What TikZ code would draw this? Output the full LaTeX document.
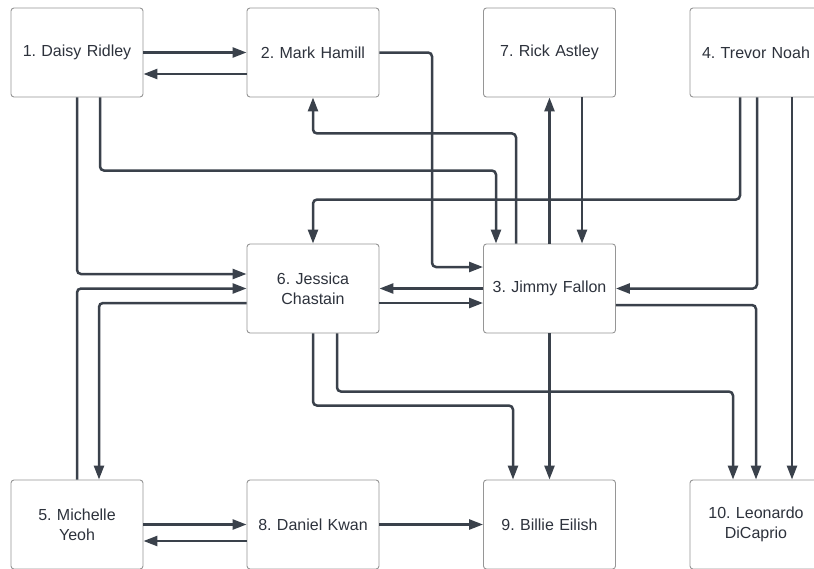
\documentclass[tikz,border=0pt]{standalone}
\usepackage{fontspec}
\setmainfont{Liberation Sans}
\usetikzlibrary{arrows.meta}
\definecolor{edgec}{RGB}{58,65,75}
\definecolor{boxc}{RGB}{150,150,150}
\definecolor{txtc}{RGB}{45,50,60}
\tikzset{
  box/.style={draw=boxc, line width=0.9pt, rounded corners=3pt, minimum width=132pt, minimum height=89pt, inner sep=2pt, text width=124pt, align=center, font=\fontsize{16}{20}\selectfont\frenchspacing, text=txtc},
  arr/.style={draw=edgec, line width=2.5pt, rounded corners=4pt, -{Triangle[length=14pt,width=10pt]}}
}
\begin{document}
\begin{tikzpicture}[x=1pt,y=-1pt]
\useasboundingbox (0,0) rectangle (814,568);
\clip (0,0) rectangle (814,568);
\fill[white] (0,0) rectangle (814,568);
\node[box] (n1) at (77,52.5) {1. Daisy Ridley};
\node[box] (n2) at (313,52.5) {2. Mark Hamill};
\node[box] (n7) at (549.5,52.5) {7. Rick Astley};
\node[box] (n4) at (756,52.5) {4. Trevor Noah};
\node[box] (n6) at (313,288.5) {6. Jessica\\Chastain};
\node[box] (n3) at (549.5,288.5) {3. Jimmy Fallon};
\node[box] (n5) at (77,524.5) {5. Michelle\\Yeoh};
\node[box] (n8) at (313,524.5) {8. Daniel Kwan};
\node[box] (n9) at (549.5,524.5) {9. Billie Eilish};
\node[box] (n10) at (756,524.5) {10. Leonardo\\DiCaprio};

\draw[arr] (n1.east) -- (n2.west);
\draw[arr] ([yshift=-21.5pt]n2.west) -- ([yshift=-21.5pt]n1.east);
\draw[arr] (n2.east) -| ([xshift=-51pt,yshift=21.5pt]n3.west) -- ([yshift=21.5pt]n3.west);
\draw[arr] ([xshift=-33.5pt]n3.north) |- ([yshift=-36pt]n2.south) -- (n2.south);
\draw[arr] ([xshift=23pt]n1.south) |- ([xshift=-53.5pt,yshift=73pt]n3.north) -- ([xshift=-53.5pt]n3.north);
\draw[arr] (n3.north) -- (n7.south);
\draw[arr] ([xshift=32.5pt]n7.south) -- ([xshift=32.5pt]n3.north);
\draw[arr] ([xshift=-16pt]n4.south) |- ([yshift=44pt]n6.north) -- (n6.north);
\draw[arr] ([xshift=1pt]n4.south) |- (n3.east);
\draw[arr] ([xshift=36pt]n4.south) -- ([xshift=36pt]n10.north);
\draw[arr] (n1.south) |- ([yshift=14.5pt]n6.west);
\draw[arr] (n5.north) |- (n6.west);
\draw[arr] ([yshift=-14.5pt]n6.west) -| ([xshift=22pt]n5.north);
\draw[arr] (n3.west) -- (n6.east);
\draw[arr] ([yshift=-14.5pt]n6.east) -- ([yshift=-14.5pt]n3.west);
\draw[arr] (n6.south) |- ([xshift=-36.5pt,yshift=74pt]n9.north) -- ([xshift=-36.5pt]n9.north);
\draw[arr] ([xshift=24pt]n6.south) |- ([xshift=-23pt,yshift=88pt]n10.north) -- ([xshift=-23pt]n10.north);
\draw[arr] (n3.south) -- (n9.north);
\draw[arr] ([yshift=-16.5pt]n3.east) -| (n10.north);
\draw[arr] (n5.east) -- (n8.west);
\draw[arr] ([yshift=-16.5pt]n8.west) -- ([yshift=-16.5pt]n5.east);
\draw[arr] (n8.east) -- (n9.west);
\end{tikzpicture}
\end{document}
